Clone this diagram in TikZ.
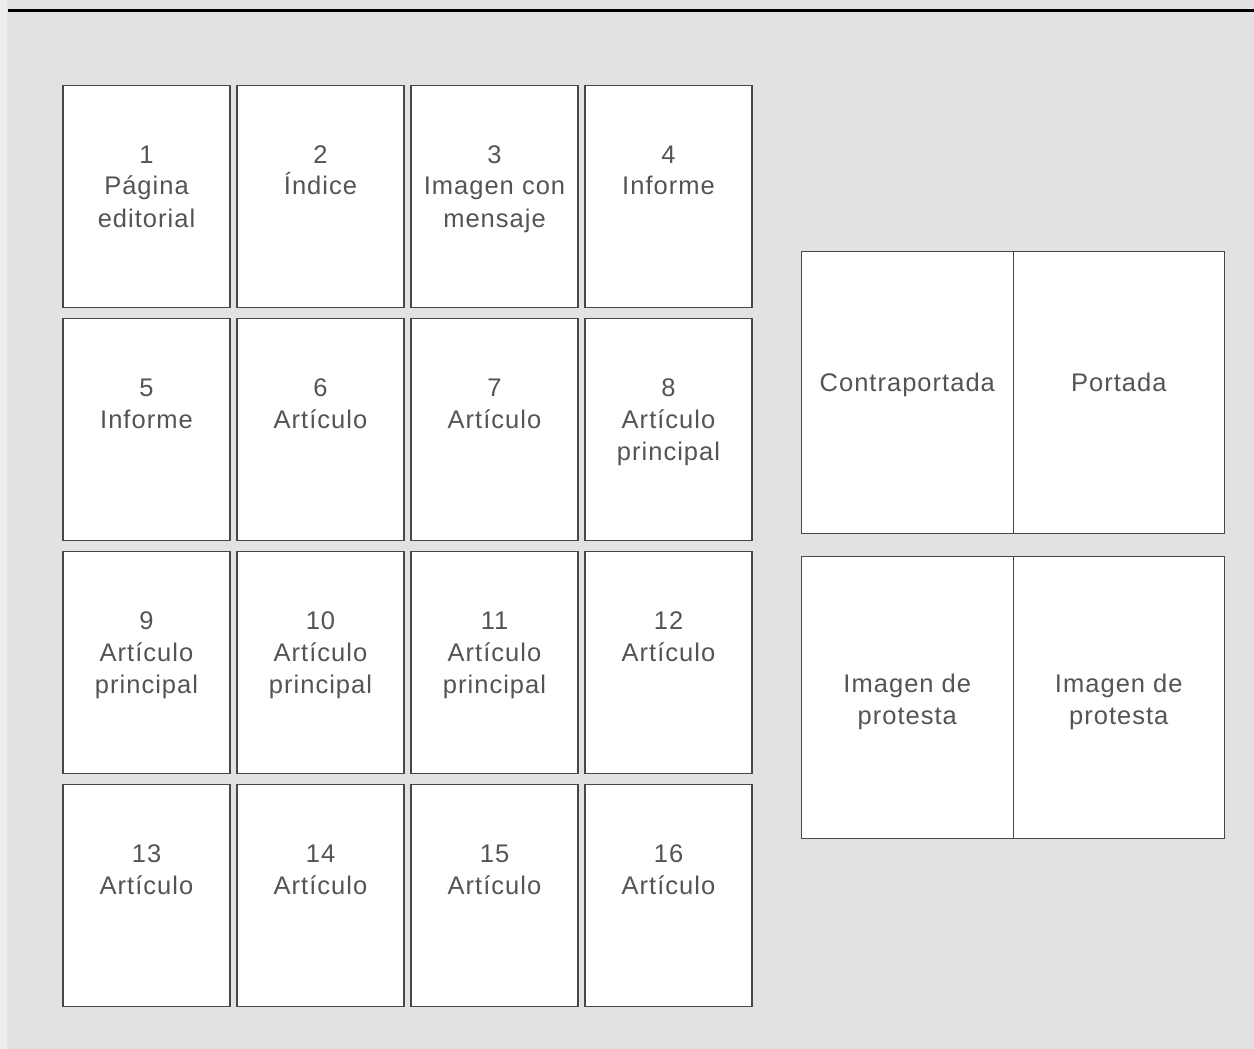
\documentclass[tikz,border=0pt]{standalone}
\usepackage{fontspec}
\setmainfont{Liberation Sans}[LetterSpace=4]
% stacked centred lines whose baseline is the first line's
\newcommand{\stackl}[1]{\begin{tabular}[t]{@{}c@{}}#1\end{tabular}}
\begin{document}
\begin{tikzpicture}[x=1pt,y=-1pt,
  page/.style={draw=black!72, line width=1.1pt, fill=white, minimum width=167pt, minimum height=222pt, inner sep=0pt},
  half/.style={draw=black!72, line width=1.1pt, fill=white, minimum width=211.5pt, minimum height=282pt, inner sep=0pt},
  lbl/.style={text=black!67, inner sep=0pt, anchor=base, font=\fontsize{25.5}{32}\selectfont},
]
% canvas
\fill[black!7] (0,0) rectangle (1254,1049);
\fill[black!11.5] (7,0) rectangle (1254,1049);
\useasboundingbox (0,0) rectangle (1254,1049);
\draw[line width=3pt, black] (8,11) -- (1254,11);

% sixteen inner pages
\foreach \n/\cx/\ty/\txt in {
  1/146.5/85/{1\\Página\\editorial},
  2/320.5/85/{2\\Índice},
  3/494.5/85/{3\\Imagen con\\mensaje},
  4/668.5/85/{4\\Informe},
  5/146.5/318/{5\\Informe},
  6/320.5/318/{6\\Artículo},
  7/494.5/318/{7\\Artículo},
  8/668.5/318/{8\\Artículo\\principal},
  9/146.5/551/{9\\Artículo\\principal},
  10/320.5/551/{10\\Artículo\\principal},
  11/494.5/551/{11\\Artículo\\principal},
  12/668.5/551/{12\\Artículo},
  13/146.5/784/{13\\Artículo},
  14/320.5/784/{14\\Artículo},
  15/494.5/784/{15\\Artículo},
  16/668.5/784/{16\\Artículo}}{
  \node[page, anchor=north] (p\n) at (\cx,\ty) {};
  \node[lbl] (t\n) at (\cx,\ty+78) {\stackl{\txt}};
}

% cover spreads
\node[half, anchor=north west] (back) at (801,251) {};
\node[half, anchor=north west] (front) at (1012.5,251) {};
\node[lbl] (tback) at (back.center |- 0,391) {Contraportada};
\node[lbl] (tfront) at (front.center |- 0,391) {Portada};

\node[half, anchor=north west] (protl) at (801,556) {};
\node[half, anchor=north west] (protr) at (1012.5,556) {};
\node[lbl] (tprotl) at (protl.center |- 0,692) {\stackl{Imagen de\\protesta}};
\node[lbl] (tprotr) at (protr.center |- 0,692) {\stackl{Imagen de\\protesta}};
\end{tikzpicture}
\end{document}
